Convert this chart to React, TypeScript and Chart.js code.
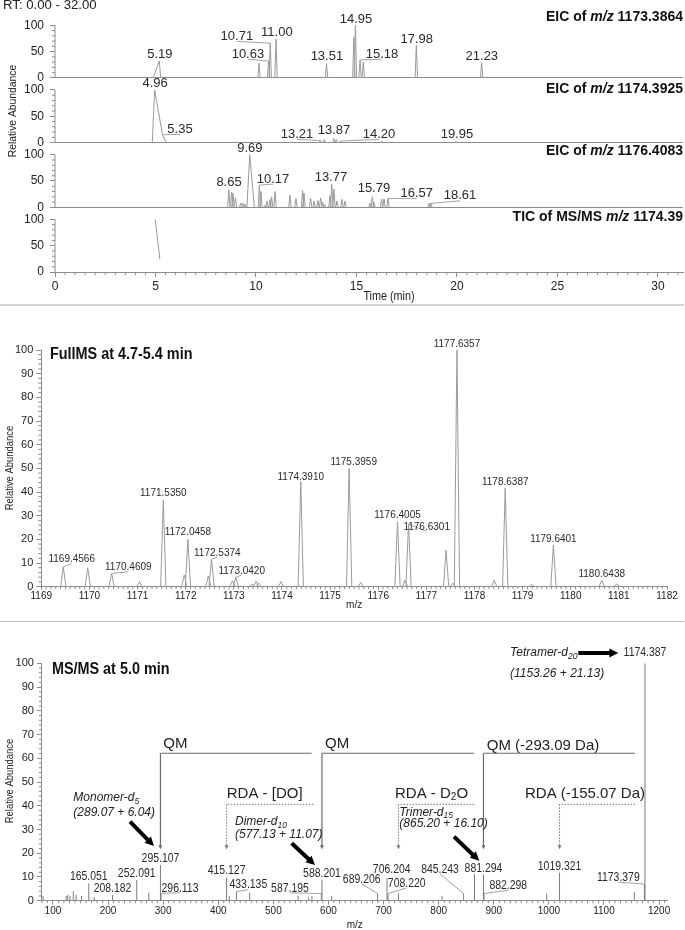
import React, { useEffect, useRef } from 'react';
import { Chart, registerables } from 'chart.js';

Chart.register(...registerables);

const FONT = "'Liberation Sans', Arial, Helvetica, sans-serif";
const AXIS = '#8c8c8c';
const TXT = '#222222';
const LBL = '#2a2a2a';
const TRACE = '#9a9a9a';
const STICK = '#7c7c7c';
const LEAD = '#a3a3a3';

// ---------------- tick labels ----------------
const rtTicks = [0, 5, 10, 15, 20, 25, 30];
const eicAbundTicks = [0, 50, 100];
const fullMzTicks = [1169, 1170, 1171, 1172, 1173, 1174, 1175, 1176, 1177, 1178, 1179, 1180, 1181, 1182];
const msmsMzTicks = [100, 200, 300, 400, 500, 600, 700, 800, 900, 1000, 1100, 1200];
const pctTicks = [0, 10, 20, 30, 40, 50, 60, 70, 80, 90, 100];

// ---------------- EIC of m/z 1173.3864 ----------------
const eic1173Times = [10.15, 10.63, 10.71, 11.0, 13.51, 14.87, 14.95, 15.18, 15.34, 17.98, 21.23];
const eic1173Heights = [28, 32, 66, 74, 27, 77, 100, 34, 30, 62, 29];
const eic1173ProfileTimes = [4.88, 5.19, 5.26];
const eic1173ProfileHeights = [0, 32, 0];

// ---------------- EIC of m/z 1174.3925 ----------------
const eic1174ProfileTimes = [4.84, 4.96, 5.35, 5.5, 5.6];
const eic1174ProfileHeights = [0, 100, 15, 3, 0];
const eic1174Times = [13.21, 13.4, 13.87, 14.0, 14.2, 16.27, 19.95];
const eic1174Heights = [4, 6, 8, 6, 3, 2, 2];

// ---------------- EIC of m/z 1176.4083 ----------------
const eic1176Times = [8.65, 8.79, 8.86, 8.98, 9.24, 9.34, 9.45, 10.17, 10.25, 10.45, 10.55, 10.7, 10.78, 10.95, 11.69, 11.99, 12.32, 12.39, 12.72, 12.89, 13.08, 13.22, 13.32, 13.43, 13.68, 13.77, 13.88, 14.03, 14.28, 14.43, 15.67, 15.79, 15.87, 16.25, 16.37, 16.57, 18.61, 18.71];
const eic1176Heights = [33, 29, 27, 18, 8, 8, 6, 42, 30, 4, 12, 15, 20, 30, 23, 17, 32, 27, 17, 12, 13, 18, 10, 5, 22, 44, 35, 12, 15, 12, 8, 20, 10, 16, 16, 17, 7, 7];
const eic1176ProfileTimes = [9.55, 9.69, 9.92];
const eic1176ProfileHeights = [0, 100, 0];

// ---------------- TIC of MS/MS m/z 1174.39 ----------------
const ticTimes = [4.99, 5.22];
const ticValues = [100, 24];

// ---------------- Full MS at 4.7-5.4 min ----------------
const fullMz = [1169.4566, 1169.964, 1170.4609, 1171.04, 1171.535, 1171.97, 1172.0458, 1172.47, 1172.5374, 1172.97, 1173.042, 1173.38, 1173.46, 1173.52, 1173.98, 1174.391, 1175.3959, 1175.636, 1176.4005, 1176.557, 1176.6301, 1177.41, 1177.55, 1177.6357, 1178.41, 1178.6387, 1179.19, 1179.6401, 1180.6438, 1180.955];
const fullAbund = [8.4, 8.0, 5.6, 2.1, 36.6, 5, 20, 4.5, 11.6, 2.5, 4, 1.2, 2.3, 1.5, 2.1, 44.4, 50, 1.8, 27.5, 2.8, 26.4, 15.5, 1.5, 100, 2.8, 41.6, 1, 17.6, 2.8, 1.2];

// ---------------- MS/MS at 5.0 min ----------------
const msmsMz = [82, 124, 127, 131, 137, 142, 152, 165.051, 175, 208.182, 252.091, 274, 295.107, 296.113, 415.127, 420, 433.135, 457, 545, 564, 570, 587.195, 588.201, 606, 689.206, 706.204, 708.22, 727, 806, 845.243, 865, 881.294, 882.298, 996, 1019.321, 1155, 1173.379, 1174.387];
const msmsAbund = [2, 2, 2.5, 2, 4, 2.5, 2, 7.3, 1.5, 2.4, 8.7, 3.4, 15, 3.1, 9.7, 2, 3.8, 3.4, 2, 1.5, 2, 3, 8.7, 2, 3, 9.6, 3, 3, 2, 3, 11.2, 11, 3, 3, 11.8, 3.8, 7, 100];

// ---------------- annotations (label text at data coords, optional leader target) ----------------
type Lab = { text: string; x: number; y: number; tx?: number; ty?: number };

const eic1173Labels: Lab[] = [
  { text: '5.19', x: 5.22, y: 45 },
  { text: '10.71', x: 9.05, y: 79, tx: 10.71, ty: 66 },
  { text: '10.63', x: 9.6, y: 45, tx: 10.63, ty: 32 },
  { text: '11.00', x: 11.04, y: 87 },
  { text: '13.51', x: 13.53, y: 40 },
  { text: '14.95', x: 14.98, y: 111 },
  { text: '15.18', x: 16.27, y: 45, tx: 15.18, ty: 34 },
  { text: '17.98', x: 18.0, y: 73.6 },
  { text: '21.23', x: 21.24, y: 41.5 },
];
const eic1174Labels: Lab[] = [
  { text: '4.96', x: 4.98, y: 111.7 },
  { text: '5.35', x: 6.22, y: 25, tx: 5.35, ty: 15 },
  { text: '13.21', x: 12.04, y: 15.5, tx: 13.21, ty: 4 },
  { text: '13.87', x: 13.88, y: 23 },
  { text: '14.20', x: 16.12, y: 15.5, tx: 14.2, ty: 3 },
  { text: '19.95', x: 20.0, y: 15.5 },
];
const eic1176Labels: Lab[] = [
  { text: '9.69', x: 9.7, y: 111.6 },
  { text: '8.65', x: 8.66, y: 46.8 },
  { text: '10.17', x: 10.85, y: 53.7, tx: 10.17, ty: 42 },
  { text: '13.77', x: 13.73, y: 57.5 },
  { text: '15.79', x: 15.87, y: 35 },
  { text: '16.57', x: 18.0, y: 26, tx: 16.57, ty: 17 },
  { text: '18.61', x: 20.15, y: 21.7, tx: 18.61, ty: 7 },
];
const fullLabels: Lab[] = [
  { text: '1169.4566', x: 1169.632, y: 11.6, tx: 1169.4566, ty: 8.4 },
  { text: '1170.4609', x: 1170.808, y: 8.2, tx: 1170.4609, ty: 5.6 },
  { text: '1171.5350', x: 1171.535, y: 39.5 },
  { text: '1172.0458', x: 1172.046, y: 23 },
  { text: '1172.5374', x: 1172.657, y: 14.4, tx: 1172.5374, ty: 11.6 },
  { text: '1173.0420', x: 1173.164, y: 6.8, tx: 1173.042, ty: 4 },
  { text: '1174.3910', x: 1174.391, y: 46.5 },
  { text: '1175.3959', x: 1175.49, y: 52.8 },
  { text: '1176.4005', x: 1176.4005, y: 30.3 },
  { text: '1176.6301', x: 1177.007, y: 25.3, tx: 1176.6301, ty: 26.4 },
  { text: '1177.6357', x: 1177.636, y: 102.8 },
  { text: '1178.6387', x: 1178.639, y: 44.4 },
  { text: '1179.6401', x: 1179.64, y: 20.2 },
  { text: '1180.6438', x: 1180.644, y: 5.4 },
];
const msmsLabels: Lab[] = [
  { text: '165.051', x: 165.051, y: 10.1 },
  { text: '208.182', x: 208.182, y: 5.2 },
  { text: '252.091', x: 252.091, y: 11.5 },
  { text: '295.107', x: 295.107, y: 17.9 },
  { text: '296.113', x: 330.6, y: 5.2, tx: 296.113, ty: 3.1 },
  { text: '415.127', x: 415.127, y: 12.6 },
  { text: '433.135', x: 454.6, y: 6.6, tx: 433.135, ty: 3.8 },
  { text: '587.195', x: 530.2, y: 5.2, tx: 587.195, ty: 3 },
  { text: '588.201', x: 588.201, y: 11.5 },
  { text: '689.206', x: 660.3, y: 9.0, tx: 689.206, ty: 3 },
  { text: '706.204', x: 714.8, y: 12.9 },
  { text: '708.220', x: 742, y: 7.3, tx: 708.22, ty: 3 },
  { text: '845.243', x: 802.4, y: 13.2, tx: 845.243, ty: 3 },
  { text: '881.294', x: 881.294, y: 13.6 },
  { text: '882.298', x: 926.3, y: 6.3, tx: 882.298, ty: 3 },
  { text: '1019.321', x: 1019.321, y: 14.3 },
  { text: '1173.379', x: 1126, y: 9.7, tx: 1173.379, ty: 7 },
  { text: '1174.387', x: 1174.387, y: 104.3 },
];

// fragmentation brackets (solid = QM, dotted = RDA)
const brackets = [
  { x1: 295.107, x2: 569.6, y: 62.1, tip: 21.7, dotted: false, tx: 300.3, ty: 66, segs: [['QM', 0]] },
  { x1: 588.201, x2: 864.1, y: 62.1, tip: 21.7, dotted: false, tx: 593.7, ty: 66, segs: [['QM', 0]] },
  { x1: 881.294, x2: 1156.3, y: 62.1, tip: 21.7, dotted: false, tx: 887.2, ty: 65.2, segs: [['QM (-293.09 Da)', 0]] },
  { x1: 415.127, x2: 572.5, y: 40.6, tip: 21.7, dotted: true, tx: 415.4, ty: 45.2, segs: [['RDA - [DO]', 0]] },
  { x1: 727, x2: 864.1, y: 40.6, tip: 21.7, dotted: true, tx: 720.8, ty: 45.2, segs: [['RDA - D', 0], ['2', 1], ['O', 0]] },
  { x1: 1019.321, x2: 1156.3, y: 40.6, tip: 21.7, dotted: true, tx: 956.6, ty: 45.2, segs: [['RDA (-155.07 Da)', 0]] },
];

// oligomer call-outs with thick arrows
const callouts = [
  { name: 'Monomer-d', sub: '5', formula: '(289.07 + 6.04)', x: 137, y1: 43.4, y2: 37.1, ax1: 239.9, ay1: 33.3, ax2: 283.4, ay2: 23.0 },
  { name: 'Dimer-d', sub: '10', formula: '(577.13 + 11.07)', x: 430.4, y1: 33.3, y2: 27.7, ax1: 533.3, ay1: 24.2, ax2: 575.6, ay2: 15.0 },
  { name: 'Trimer-d', sub: '15', formula: '(865.20 + 16.10)', x: 728.6, y1: 37.1, y2: 32.3, ax1: 827.8, ay1: 27.0, ax2: 873.7, ay2: 16.8 },
  { name: 'Tetramer-d', sub: '20', formula: '(1153.26 + 21.13)', x: 929.4, y1: 104.3, y2: 95.8, ax1: 1053.4, ay1: 104.3, ax2: 1126, ay2: 104.3 },
];

// ---------------- helpers ----------------
type Pt = { x: number; y: number | null };
function triangles(times: number[], heights: number[], w: number): Pt[] {
  const out: Pt[] = [];
  times.forEach((t, i) => {
    out.push({ x: t - w, y: 0 }, { x: t, y: heights[i] }, { x: t + w, y: 0 }, { x: t + w, y: null });
  });
  return out;
}
function profile(times: number[], values: number[]): Pt[] {
  return times.map((t, i) => ({ x: t, y: values[i] }));
}
function sticks(mz: number[], h: number[]): Pt[] {
  const out: Pt[] = [];
  mz.forEach((m, i) => {
    out.push({ x: m, y: 0 }, { x: m, y: h[i] }, { x: m, y: null });
  });
  return out;
}

type Seg = { t: string; font: string; dy?: number };
function drawSegs(ctx: CanvasRenderingContext2D, segs: Seg[], x: number, y: number, align: string, color: string, sx = 1) {
  ctx.save();
  ctx.fillStyle = color;
  ctx.textBaseline = 'middle';
  ctx.textAlign = 'left';
  let total = 0;
  const ws = segs.map((s) => {
    ctx.font = s.font;
    const w = ctx.measureText(s.t).width;
    total += w;
    return w;
  });
  let cx = align === 'left' ? 0 : align === 'right' ? -total : -total / 2;
  ctx.translate(x, y);
  ctx.scale(sx, 1);
  segs.forEach((s, i) => {
    ctx.font = s.font;
    ctx.fillText(s.t, cx, s.dy || 0);
    cx += ws[i];
  });
  ctx.restore();
}
function seg1(t: string, font: string): Seg[] {
  return [{ t, font }];
}
function line(ctx: CanvasRenderingContext2D, x1: number, y1: number, x2: number, y2: number, color: string, w = 1, dash: number[] = []) {
  ctx.save();
  ctx.strokeStyle = color;
  ctx.lineWidth = w;
  ctx.setLineDash(dash);
  ctx.beginPath();
  ctx.moveTo(x1, y1);
  ctx.lineTo(x2, y2);
  ctx.stroke();
  ctx.restore();
}
function arrow(ctx: CanvasRenderingContext2D, x1: number, y1: number, x2: number, y2: number, color: string, w: number, head: number, dash: number[] = []) {
  const a = Math.atan2(y2 - y1, x2 - x1);
  const bx = x2 - Math.cos(a) * head * 0.9;
  const by = y2 - Math.sin(a) * head * 0.9;
  line(ctx, x1, y1, bx, by, color, w, dash);
  ctx.save();
  ctx.fillStyle = color;
  ctx.beginPath();
  ctx.moveTo(x2, y2);
  ctx.lineTo(x2 - Math.cos(a) * head + Math.sin(a) * head * 0.5, y2 - Math.sin(a) * head - Math.cos(a) * head * 0.5);
  ctx.lineTo(x2 - Math.cos(a) * head - Math.sin(a) * head * 0.5, y2 - Math.sin(a) * head + Math.cos(a) * head * 0.5);
  ctx.closePath();
  ctx.fill();
  ctx.restore();
}
function minorX(ctx: CanvasRenderingContext2D, scale: any, y: number, from: number, to: number, step: number, every: number, len: number) {
  const n = Math.round((to - from) / step);
  for (let i = 0; i <= n; i++) {
    const v = from + i * step;
    if (Math.abs(v / every - Math.round(v / every)) < 1e-6) continue;
    const px = scale.getPixelForValue(v);
    line(ctx, px, y, px, y + len, AXIS, 1);
  }
}
function minorY(ctx: CanvasRenderingContext2D, scale: any, x: number, from: number, to: number, step: number, every: number, len: number) {
  const n = Math.round((to - from) / step);
  for (let i = 0; i <= n; i++) {
    const v = from + i * step;
    if (Math.abs(v / every - Math.round(v / every)) < 1e-6) continue;
    const py = scale.getPixelForValue(v);
    line(ctx, x - len, py, x, py, AXIS, 1);
  }
}
function drawLabels(ctx: CanvasRenderingContext2D, labs: Lab[], X: (v: number) => number, Y: (v: number) => number, font: string, sx: number, drop: number) {
  labs.forEach((l) => {
    const lx = X(l.x);
    const ly = Y(l.y);
    if (l.tx !== undefined && l.ty !== undefined) line(ctx, lx, ly + drop, X(l.tx), Y(l.ty), LEAD, 1);
    drawSegs(ctx, seg1(l.text, font), lx, ly, 'center', LBL, sx);
  });
}
function rotatedTitle(ctx: CanvasRenderingContext2D, text: string, x: number, y: number, font: string, sx: number) {
  ctx.save();
  ctx.translate(x, y);
  ctx.rotate(-Math.PI / 2);
  drawSegs(ctx, seg1(text, font), 0, 0, 'center', TXT, sx);
  ctx.restore();
}
const fixTicks = (vals: number[]) => (s: any) => {
  s.ticks = vals.map((v) => ({ value: v }));
};

// ---------------- charts ----------------
const eicPanels = [
  { id: 'y1', weight: 4, mz: '1173.3864', prefix: 'EIC of ', titleV: 115, labels: eic1173Labels },
  { id: 'y2', weight: 3, mz: '1174.3925', prefix: 'EIC of ', titleV: 101, labels: eic1174Labels },
  { id: 'y3', weight: 2, mz: '1176.4083', prefix: 'EIC of ', titleV: 107, labels: eic1176Labels },
  { id: 'y4', weight: 1, mz: '1174.39', prefix: 'TIC of MS/MS ', titleV: 104, labels: [] as Lab[] },
];

function makeTop(canvas: HTMLCanvasElement) {
  const ds = (data: Pt[], axis: string) => ({ data, yAxisID: axis, borderColor: TRACE, borderWidth: 1, pointRadius: 0, tension: 0, spanGaps: false, fill: false });
  const yAxis = (weight: number) => ({
    type: 'linear', position: 'left', stack: 'eic', stackWeight: 1, weight, min: 0, max: 123,
    afterBuildTicks: fixTicks(eicAbundTicks),
    afterFit: (s: any) => { s.width = 55; },
    border: { display: false },
    grid: { drawOnChartArea: true, color: (c: any) => (c.tick && c.tick.value === 0 ? AXIS : 'rgba(0,0,0,0)'), tickColor: AXIS, tickLength: 5 },
    ticks: { font: { family: FONT, size: 12 }, color: TXT, padding: 6 },
  });
  const plugin = {
    id: 'topAnnot',
    afterDraw(chart: any) {
      const ctx = chart.ctx as CanvasRenderingContext2D;
      const area = chart.chartArea;
      const xs = chart.scales.x;
      const X = (v: number) => xs.getPixelForValue(v);
      drawSegs(ctx, seg1('RT: 0.00 - 32.00', `12px ${FONT}`), 3, 6, 'left', TXT, 1.1);
      eicPanels.forEach((p) => {
        const ys = chart.scales[p.id];
        const Y = (v: number) => ys.getPixelForValue(v);
        line(ctx, area.left, Y(0), area.left, Y(100), AXIS, 1);
        minorY(ctx, ys, area.left, 0, 100, 10, 50, 3);
        const bold = `bold 14px ${FONT}`;
        drawSegs(ctx, [{ t: p.prefix, font: bold }, { t: 'm/z', font: `italic bold 14px ${FONT}` }, { t: ' ' + p.mz, font: bold }], area.right, Y(p.titleV), 'right', '#111');
        drawLabels(ctx, p.labels, X, Y, `13px ${FONT}`, 1, 5);
      });
      minorX(ctx, xs, area.bottom, 0, 31, 0.5, 5, 3);
      rotatedTitle(ctx, 'Relative Abundance', 13, 111, `11px ${FONT}`, 0.94);
      drawSegs(ctx, seg1('Time (min)', `12px ${FONT}`), (area.left + area.right) / 2 + 20, 297, 'center', TXT, 0.9);
    },
  };
  return new Chart(canvas, {
    type: 'line',
    data: {
      datasets: [
        ds(profile(eic1173ProfileTimes, eic1173ProfileHeights), 'y1'),
        ds(triangles(eic1173Times, eic1173Heights, 0.06), 'y1'),
        ds(profile(eic1174ProfileTimes, eic1174ProfileHeights), 'y2'),
        ds(triangles(eic1174Times, eic1174Heights, 0.06), 'y2'),
        ds(profile(eic1176ProfileTimes, eic1176ProfileHeights), 'y3'),
        ds(triangles(eic1176Times, eic1176Heights, 0.06), 'y3'),
        ds(profile(ticTimes, ticValues), 'y4'),
      ],
    },
    options: {
      responsive: false,
      animation: false,
      events: [],
      layout: { padding: { left: 0, right: 2, top: 11, bottom: 0 } },
      plugins: { legend: { display: false }, tooltip: { enabled: false }, title: { display: false } },
      scales: {
        x: {
          type: 'linear', min: 0, max: 31.25,
          afterBuildTicks: fixTicks(rtTicks),
          afterFit: (s: any) => { s.height = 33; },
          border: { display: true, color: AXIS },
          grid: { drawOnChartArea: false, tickColor: AXIS, tickLength: 5 },
          ticks: { font: { family: FONT, size: 12 }, color: TXT, padding: 2, maxRotation: 0, autoSkip: false },
        },
        y1: yAxis(4),
        y2: yAxis(3),
        y3: yAxis(2),
        y4: yAxis(1),
      } as any,
    },
    plugins: [plugin],
  } as any);
}

function spectrumScales(xMin: number, xMax: number, xTicks: number[], xH: number, yW: number, xTickLen: number) {
  return {
    x: {
      type: 'linear', min: xMin, max: xMax,
      afterBuildTicks: fixTicks(xTicks),
      afterFit: (s: any) => { s.height = xH; },
      border: { display: true, color: AXIS },
      grid: { drawOnChartArea: false, tickColor: AXIS, tickLength: xTickLen },
      ticks: { font: { family: FONT, size: 10 }, color: TXT, padding: 1, maxRotation: 0, autoSkip: false, callback: (v: any) => String(v) },
    },
    y: {
      type: 'linear', min: 0, max: 100,
      afterBuildTicks: fixTicks(pctTicks),
      afterFit: (s: any) => { s.width = yW; },
      border: { display: true, color: AXIS },
      grid: { drawOnChartArea: false, tickColor: AXIS, tickLength: 5 },
      ticks: { font: { family: FONT, size: 11 }, color: TXT, padding: 3, callback: (v: any) => String(v) },
    },
  };
}

function makeMid(canvas: HTMLCanvasElement) {
  const plugin = {
    id: 'midAnnot',
    afterDraw(chart: any) {
      const ctx = chart.ctx as CanvasRenderingContext2D;
      const area = chart.chartArea;
      const xs = chart.scales.x;
      const ys = chart.scales.y;
      const X = (v: number) => xs.getPixelForValue(v);
      const Y = (v: number) => ys.getPixelForValue(v);
      minorY(ctx, ys, area.left, 0, 100, 2, 10, 3);
      minorX(ctx, xs, area.bottom, 1169, 1182, 0.1, 1, 2.5);
      drawSegs(ctx, seg1('FullMS at 4.7-5.4 min', `bold 16px ${FONT}`), area.left + 8.7, area.top + 5, 'left', '#111', 0.9);
      drawLabels(ctx, fullLabels, X, Y, `11.5px ${FONT}`, 0.87, 4.5);
      rotatedTitle(ctx, 'Relative Abundance', 9.5, 468 - 306, `11.5px ${FONT}`, 0.82);
      drawSegs(ctx, seg1('m/z', `10px ${FONT}`), (area.left + area.right) / 2, 605 - 306, 'center', TXT, 1);
    },
  };
  return new Chart(canvas, {
    type: 'line',
    data: {
      datasets: [
        { data: triangles(fullMz, fullAbund, 0.055), borderColor: TRACE, borderWidth: 1, pointRadius: 0, tension: 0, spanGaps: false, fill: false },
      ],
    },
    options: {
      responsive: false,
      animation: false,
      events: [],
      layout: { padding: { left: 0, right: 18, top: 44, bottom: 0 } },
      plugins: { legend: { display: false }, tooltip: { enabled: false } },
      scales: spectrumScales(1169, 1182, fullMzTicks, 35.3, 41.3, 3) as any,
    },
    plugins: [plugin],
  } as any);
}

function makeBot(canvas: HTMLCanvasElement) {
  const plugin = {
    id: 'botAnnot',
    afterDraw(chart: any) {
      const ctx = chart.ctx as CanvasRenderingContext2D;
      const area = chart.chartArea;
      const xs = chart.scales.x;
      const ys = chart.scales.y;
      const X = (v: number) => xs.getPixelForValue(v);
      const Y = (v: number) => ys.getPixelForValue(v);
      minorY(ctx, ys, area.left, 0, 100, 2, 10, 3);
      minorX(ctx, xs, area.bottom, 80, 1210, 10, 100, 2.5);
      drawSegs(ctx, seg1('MS/MS at 5.0 min', `bold 16px ${FONT}`), area.left + 10, area.top + 6, 'left', '#111', 0.9);
      drawLabels(ctx, msmsLabels, X, Y, `12px ${FONT}`, 0.87, 4.5);

      brackets.forEach((b) => {
        const x1 = X(b.x1);
        const x2 = X(b.x2);
        const y = Y(b.y);
        const tip = Y(b.tip);
        const color = b.dotted ? '#777' : '#6a6a6a';
        const dash = b.dotted ? [1.5, 1.5] : [];
        line(ctx, x2, y, x1, y, color, b.dotted ? 1 : 1.2, dash);
        arrow(ctx, x1, y, x1, tip, color, b.dotted ? 1 : 1.2, 4, dash);
        const segs: Seg[] = b.segs.map((s: any) => (s[1] ? { t: s[0], font: `10px ${FONT}`, dy: 4 } : { t: s[0], font: `15px ${FONT}` }));
        drawSegs(ctx, segs, X(b.tx), Y(b.ty), 'left', TXT, 1);
      });

      callouts.forEach((c) => {
        const it = `italic 12px ${FONT}`;
        drawSegs(ctx, [{ t: c.name, font: it }, { t: c.sub, font: `italic 8.5px ${FONT}`, dy: 3.5 }], X(c.x), Y(c.y1), 'left', TXT, 1);
        drawSegs(ctx, seg1(c.formula, it), X(c.x), Y(c.y2), 'left', TXT, 1);
        arrow(ctx, X(c.ax1), Y(c.ay1), X(c.ax2), Y(c.ay2), '#000', 4, 9);
      });

      rotatedTitle(ctx, 'Relative Abundance', 9.5, 781 - 622, `11.5px ${FONT}`, 0.82);
      drawSegs(ctx, seg1('m/z', `10px ${FONT}`), (area.left + area.right) / 2, 925 - 622, 'center', TXT, 1);
    },
  };
  return new Chart(canvas, {
    type: 'line',
    data: {
      datasets: [
        { data: sticks(msmsMz, msmsAbund), borderColor: STICK, borderWidth: 1, pointRadius: 0, tension: 0, spanGaps: false, fill: false },
      ],
    },
    options: {
      responsive: false,
      animation: false,
      events: [],
      layout: { padding: { left: 0, right: 17.3, top: 41.3, bottom: 0 } },
      plugins: { legend: { display: false }, tooltip: { enabled: false } },
      scales: spectrumScales(80, 1215.6, msmsMzTicks, 29.3, 41.9, 4) as any,
    },
    plugins: [plugin],
  } as any);
}

export default function App() {
  const topRef = useRef<HTMLCanvasElement>(null);
  const midRef = useRef<HTMLCanvasElement>(null);
  const botRef = useRef<HTMLCanvasElement>(null);
  useEffect(() => {
    const charts = [makeTop(topRef.current!), makeMid(midRef.current!), makeBot(botRef.current!)];
    return () => charts.forEach((c) => c.destroy());
  }, []);
  return (
    <div style={{ position: 'absolute', left: 0, top: 0, width: 685, height: 930, background: '#fff', overflow: 'hidden' }}>
      <canvas ref={topRef} width={685} height={305} style={{ position: 'absolute', left: 0, top: 0 }} />
      <div style={{ position: 'absolute', left: 0, top: 304, width: 684, height: 2, background: '#d4d4d4' }} />
      <canvas ref={midRef} width={685} height={316} style={{ position: 'absolute', left: 0, top: 306 }} />
      <div style={{ position: 'absolute', left: 0, top: 621, width: 684, height: 1, background: '#bdbdbd' }} />
      <canvas ref={botRef} width={685} height={308} style={{ position: 'absolute', left: 0, top: 622 }} />
    </div>
  );
}
